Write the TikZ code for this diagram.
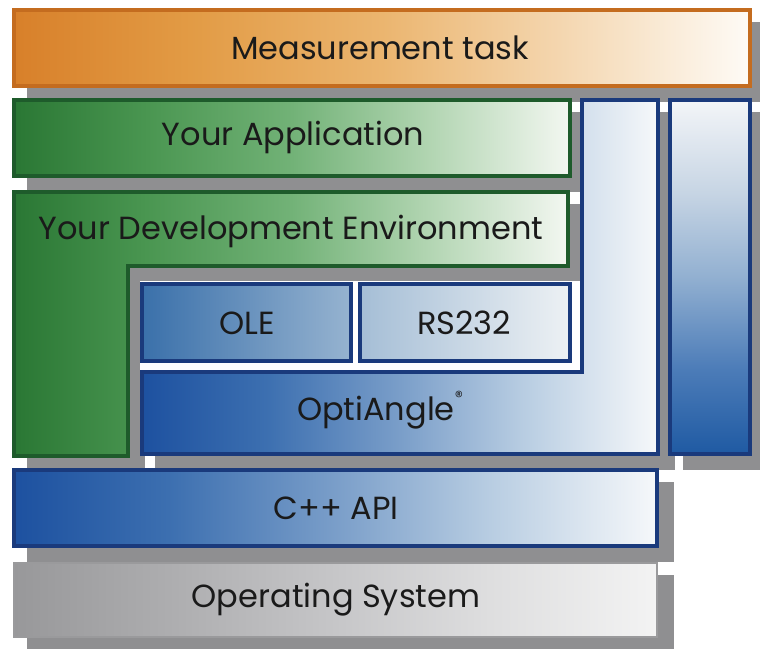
\documentclass[tikz,border=0pt]{standalone}
\usepackage{fontspec}
\setmainfont{Poppins}
\definecolor{shadowgray}{HTML}{8F8F91}
\definecolor{textcol}{HTML}{1A1A1A}
\definecolor{orB}{HTML}{C46C1F}
\definecolor{grB}{HTML}{1E5B2B}
\definecolor{blB}{HTML}{1A3A7C}
\definecolor{oleL}{HTML}{3A70AA}
\definecolor{oleR}{HTML}{96B3D0}
\definecolor{rsL}{HTML}{A5BED6}
\definecolor{rsR}{HTML}{EDF1F4}
\definecolor{osB}{HTML}{9A9A9C}
\pgfdeclarehorizontalshading{orshade}{100bp}{color(0bp)=(rgb,255:red,216;green,128;blue,42); color(25bp)=(rgb,255:red,216;green,128;blue,42); color(37bp)=(rgb,255:red,226;green,155;blue,69); color(50bp)=(rgb,255:red,235;green,181;blue,111); color(62bp)=(rgb,255:red,244;green,214;blue,175); color(75bp)=(rgb,255:red,254;green,251;blue,246); color(100bp)=(rgb,255:red,254;green,251;blue,246)}
\pgfdeclarehorizontalshading{grshade}{100bp}{color(0bp)=(rgb,255:red,42;green,119;blue,52); color(25bp)=(rgb,255:red,42;green,119;blue,52); color(37bp)=(rgb,255:red,74;green,150;blue,81); color(50bp)=(rgb,255:red,114;green,178;blue,119); color(62bp)=(rgb,255:red,176;green,212;blue,176); color(75bp)=(rgb,255:red,243;green,247;blue,241); color(100bp)=(rgb,255:red,243;green,247;blue,241)}
\pgfdeclarehorizontalshading{blshade}{100bp}{color(0bp)=(rgb,255:red,29;green,81;blue,160); color(25bp)=(rgb,255:red,29;green,81;blue,160); color(37bp)=(rgb,255:red,60;green,111;blue,176); color(50bp)=(rgb,255:red,122;green,158;blue,201); color(62bp)=(rgb,255:red,184;green,205;blue,226); color(75bp)=(rgb,255:red,246;green,248;blue,250); color(100bp)=(rgb,255:red,246;green,248;blue,250)}
\pgfdeclarehorizontalshading{osshade}{100bp}{color(0bp)=(rgb,255:red,152;green,152;blue,154); color(25bp)=(rgb,255:red,152;green,152;blue,154); color(37bp)=(rgb,255:red,173;green,173;blue,175); color(50bp)=(rgb,255:red,198;green,198;blue,200); color(62bp)=(rgb,255:red,222;green,222;blue,223); color(75bp)=(rgb,255:red,243;green,243;blue,243); color(100bp)=(rgb,255:red,243;green,243;blue,243)}
\pgfdeclareverticalshading{colshade}{100bp}{color(0bp)=(rgb,255:red,31;green,90;blue,163); color(25bp)=(rgb,255:red,31;green,90;blue,163); color(37bp)=(rgb,255:red,76;green,124;blue,184); color(50bp)=(rgb,255:red,146;green,176;blue,209); color(62bp)=(rgb,255:red,199;green,213;blue,228); color(75bp)=(rgb,255:red,243;green,245;blue,248); color(100bp)=(rgb,255:red,243;green,245;blue,248)}
\begin{document}
\begin{tikzpicture}[x=0.75pt,y=-0.75pt,
  shadowbox/.style={fill=shadowgray, draw=shadowgray, line width=3pt},
  boxtext/.style={font=\fontsize{24}{28}\selectfont, text=textcol, inner sep=0pt},
  orangebox/.style={draw=orB, line width=3pt, shading=orshade},
  greenbox/.style={draw=grB, line width=3pt, shading=grshade},
  bluebox/.style={draw=blB, line width=3pt, shading=blshade},
  graybox/.style={draw=osB, line width=2pt, shading=osshade},
]
\useasboundingbox (0,0) rectangle (760,649);
% shadows
\begin{scope}[shift={(15,14)}]
  \path[shadowbox] (14,10) rectangle (750,86);
  \path[shadowbox] (14,100) rectangle (570,176);
  \path[shadowbox] (14,192) -- (568,192) -- (568,266) -- (128,266) -- (128,456) -- (14,456) -- cycle;
  \path[shadowbox] (142,372) -- (582,372) -- (582,100) -- (658,100) -- (658,454) -- (142,454) -- cycle;
  \path[shadowbox] (670,100) rectangle (750,454);
  \path[shadowbox] (14,470) rectangle (657,546);
  \path[shadowbox] (14,563) rectangle (657,637);
\end{scope}
% white notch behind OLE / RS232
\fill[white] (140,281) rectangle (580,372);
% boxes
\shade[orangebox] (14,10) rectangle (750,86);
\shade[greenbox] (14,100) rectangle (570,176);
\shade[greenbox] (14,192) -- (568,192) -- (568,266) -- (128,266) -- (128,456) -- (14,456) -- cycle;
\shade[draw=blB, line width=3pt, left color=oleL, right color=oleR] (142,284) rectangle (351,361);
\shade[draw=blB, line width=3pt, left color=rsL, right color=rsR] (360,284) rectangle (570,361);
\shade[bluebox] (142,372) -- (582,372) -- (582,100) -- (658,100) -- (658,454) -- (142,454) -- cycle;
\shade[draw=blB, line width=3pt, shading=colshade] (670,100) rectangle (750,454);
\shade[bluebox] (14,470) rectangle (657,546);
\shade[graybox] (14,563) rectangle (657,637);
% texts
\node[boxtext] (meas) at (380,48) {Measurement task};
\node[boxtext] (app) at (293,137) {Your Application};
\node[boxtext] (dev) at (291,231) {Your Development Environment};
\node[boxtext] (ole) at (247,323) {OLE};
\node[boxtext] (rs) at (464,323) {RS232};
\node[boxtext] (opti) at (380,410) {OptiAngle\raisebox{1.0ex}{\fontsize{12}{12}\selectfont ®}};
\node[boxtext] (cpp) at (336,508) {C++ API};
\node[boxtext] (os) at (336,600) {Operating System};
\end{tikzpicture}
\end{document}
